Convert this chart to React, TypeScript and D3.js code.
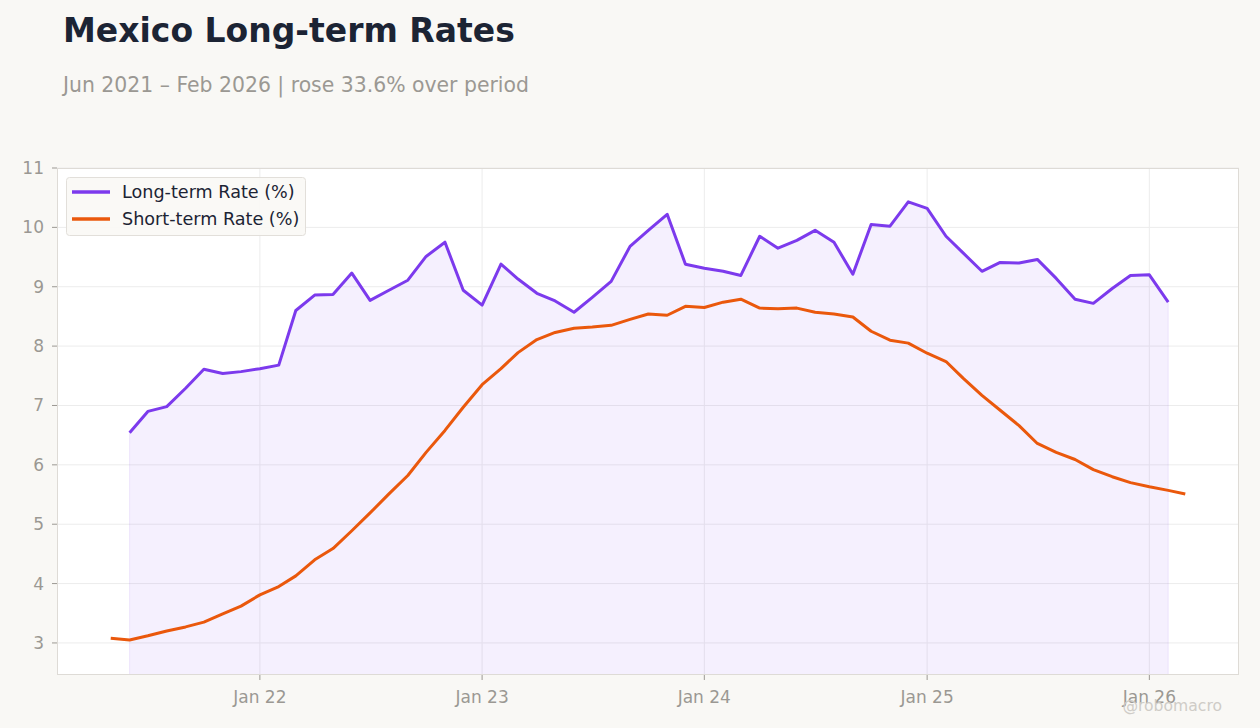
import React from "react";
import * as d3 from "d3";

const longStart = "2021-06";
const longRate = [
  6.54, 6.90, 6.98, 7.29, 7.61, 7.54, 7.57, 7.62, 7.68, 8.60, 8.86, 8.87,
  9.23, 8.77, 8.94, 9.11, 9.51, 9.75, 8.94, 8.69, 9.38, 9.13, 8.89, 8.76,
  8.57, 8.82, 9.09, 9.68, 9.95, 10.22, 9.38, 9.31, 9.26, 9.19, 9.85, 9.65,
  9.78, 9.95, 9.75, 9.21, 10.05, 10.02, 10.43, 10.32, 9.85, 9.57, 9.26, 9.41,
  9.40, 9.46, 9.14, 8.79, 8.72, 8.97, 9.19, 9.20, 8.74,
];
const shortStart = "2021-05";
const shortRate = [
  3.08, 3.05, 3.12, 3.20, 3.27, 3.35, 3.49, 3.62, 3.81, 3.95, 4.13, 4.40,
  4.59, 4.89, 5.19, 5.51, 5.82, 6.21, 6.58, 6.97, 7.35, 7.62, 7.89, 8.11,
  8.23, 8.30, 8.32, 8.35, 8.45, 8.54, 8.52, 8.67, 8.65, 8.74, 8.79, 8.64,
  8.63, 8.64, 8.57, 8.54, 8.49, 8.25, 8.10, 8.05, 7.88, 7.74, 7.46, 7.17,
  6.92, 6.66, 6.36, 6.21, 6.09, 5.92, 5.80, 5.70, 5.63, 5.57, 5.51,
];
const yTicks = [3, 4, 5, 6, 7, 8, 9, 10, 11];
const seriesNames = ["Long-term Rate (%)", "Short-term Rate (%)"];

type Pt = { date: Date; value: number };
function toSeries(start: string, values: number[]): Pt[] {
  const [y, m] = start.split("-").map(Number);
  return values.map((v, i) => ({ date: new Date(y, m - 1 + i, 1), value: v }));
}

const W = 1260;
const H = 728;
const M = { left: 57, top: 168, right: 1239, bottom: 675 };
const FONT = "'DejaVu Sans', sans-serif";

export default function App() {
  const longS = toSeries(longStart, longRate);
  const shortS = toSeries(shortStart, shortRate);
  const all = [...longS, ...shortS];
  const ext = d3.extent(all, (d) => d.date.getTime()) as [number, number];
  const pad = (ext[1] - ext[0]) * 0.05;
  const x = d3
    .scaleTime()
    .domain([new Date(ext[0] - pad), new Date(ext[1] + pad)])
    .range([M.left, M.right]);
  const y = d3.scaleLinear().domain([2.46, 11]).range([M.bottom, M.top]);
  const xTicks = x.ticks(d3.timeYear.every(1)!);
  const fmt = d3.timeFormat("%b %y");

  const line = d3
    .line<Pt>()
    .x((d) => x(d.date))
    .y((d) => y(d.value));
  const area = d3
    .area<Pt>()
    .x((d) => x(d.date))
    .y0(M.bottom)
    .y1((d) => y(d.value));

  const purple = "#7c3aed";
  const orange = "#ea580c";

  return (
    <div style={{ position: "fixed", left: 0, top: 0 }}>
      <svg width={W} height={H} style={{ display: "block", fontFamily: FONT }}>
        <rect x={0} y={0} width={W} height={H} fill="#f9f8f5" />
        <text x={63} y={42} fontSize={33} fontWeight="bold" fill="#1c2434">
          Mexico Long-term Rates
        </text>
        <text x={63} y={92} fontSize={20.4} fill="#9b9893">
          Jun 2021 – Feb 2026 | rose 33.6% over period
        </text>

        <rect
          x={M.left}
          y={M.top}
          width={M.right - M.left}
          height={M.bottom - M.top}
          fill="#ffffff"
        />
        {yTicks.map((t) => (
          <line
            key={"gy" + t}
            x1={M.left}
            x2={M.right}
            y1={y(t)}
            y2={y(t)}
            stroke="#ececec"
            strokeWidth={1}
          />
        ))}
        {xTicks.map((t) => (
          <line
            key={"gx" + t.getTime()}
            x1={x(t)}
            x2={x(t)}
            y1={M.top}
            y2={M.bottom}
            stroke="#ececec"
            strokeWidth={1}
          />
        ))}

        <path d={area(longS) || ""} fill={purple} fillOpacity={0.08} />
        <line
          x1={x(longS[0].date)}
          x2={x(longS[0].date)}
          y1={y(longS[0].value)}
          y2={M.bottom}
          stroke={purple}
          strokeOpacity={0.1}
        />
        <line
          x1={x(longS[longS.length - 1].date)}
          x2={x(longS[longS.length - 1].date)}
          y1={y(longS[longS.length - 1].value)}
          y2={M.bottom}
          stroke={purple}
          strokeOpacity={0.1}
        />
        <path
          d={line(shortS) || ""}
          fill="none"
          stroke={orange}
          strokeWidth={3}
          strokeLinejoin="round"
        />
        <path
          d={line(longS) || ""}
          fill="none"
          stroke={purple}
          strokeWidth={3}
          strokeLinejoin="round"
        />

        <rect
          x={M.left + 0.5}
          y={M.top + 0.5}
          width={M.right - M.left - 1}
          height={M.bottom - M.top - 1}
          fill="none"
          stroke="#dedbd6"
          strokeWidth={1}
        />

        {yTicks.map((t) => (
          <g key={"ty" + t}>
            <line
              x1={M.left - 5}
              x2={M.left}
              y1={y(t)}
              y2={y(t)}
              stroke="#9b9893"
            />
            <text
              x={M.left - 13}
              y={y(t)}
              dy="0.35em"
              textAnchor="end"
              fontSize={17}
              fill="#9b9893"
            >
              {t}
            </text>
          </g>
        ))}
        {xTicks.map((t) => (
          <g key={"tx" + t.getTime()}>
            <line
              x1={x(t)}
              x2={x(t)}
              y1={M.bottom}
              y2={M.bottom + 5}
              stroke="#9b9893"
            />
            <text
              x={x(t)}
              y={M.bottom + 28}
              textAnchor="middle"
              fontSize={17}
              fill="#9b9893"
            >
              {fmt(t)}
            </text>
          </g>
        ))}

        <g>
          <rect
            x={66.5}
            y={177.5}
            width={239}
            height={58}
            rx={3}
            fill="#f9f8f5"
            fillOpacity={0.9}
            stroke="#e2dfda"
          />
          {seriesNames.map((name, i) => (
            <g key={name}>
              <line
                x1={72}
                x2={110}
                y1={192 + i * 27}
                y2={192 + i * 27}
                stroke={i === 0 ? purple : orange}
                strokeWidth={3.5}
              />
              <text
                x={122}
                y={192 + i * 27}
                dy="0.35em"
                fontSize={17.6}
                fill="#1c2434"
              >
                {name}
              </text>
            </g>
          ))}
        </g>

        <text x={1222} y={711} textAnchor="end" fontSize={15.6} fill="#cfccc7">
          @robomacro
        </text>
      </svg>
    </div>
  );
}
